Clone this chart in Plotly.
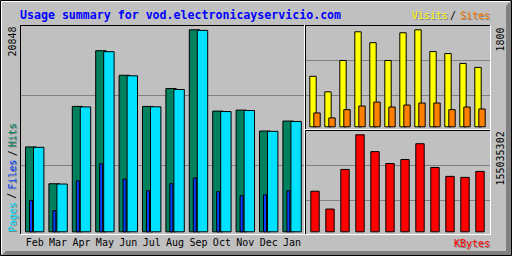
import plotly.graph_objects as go

# ---------------- data ----------------
months = ["Feb", "Mar", "Apr", "May", "Jun", "Jul", "Aug", "Sep", "Oct", "Nov", "Dec", "Jan"]
hits = [8761, 4960, 12940, 18691, 16155, 12940, 14789, 20848, 12457, 12560, 10403, 11430]
pages = [8720, 4930, 12890, 18589, 16100, 12900, 14686, 20790, 12410, 12520, 10370, 11390]
files = [3245, 2187, 5268, 7014, 5443, 4241, 4960, 5576, 4139, 3728, 3830, 4241]
visits = [937, 649, 1231, 1763, 1561, 1231, 1745, 1800, 1396, 1359, 1176, 1102]
sites = [257, 165, 318, 386, 459, 367, 404, 441, 441, 318, 367, 331]
kbytes = [64860000, 36380000, 99660000, 155035302, 128140000, 109150000,
          115480000, 140800000, 102830000, 88590000, 87010000, 96500000]

title_text = "Usage summary for vod.electronicayservicio.com"

# ---------------- styling ----------------
W, H = 512, 256
BG = "#C0C0C0"
DK = "#808080"
C_HITS = "#00805C"
C_FILES = "#0040FF"
C_PAGES = "#00E0FF"
C_VISITS = "#FFFF00"
C_SITES = "#FF8000"
C_KB = "#FF0000"
MONO = "DejaVu Sans Mono"


def fx(x):
    return x / W


def fy(y):
    return 1 - y / H


fig = go.Figure()
outline = dict(color="black", width=1)
idx = list(range(len(months)))


def add_bar(y, color, off_px, w_px, step, xa, ya):
    fig.add_trace(go.Bar(
        x=idx, y=y, marker=dict(color=color, line=outline),
        offset=off_px / step, width=w_px / step,
        xaxis=xa, yaxis=ya, hoverinfo="skip", showlegend=False))


# left panel (hits / pages / files)
STEP_L = 23.4
add_bar(hits, C_HITS, -9.2, 10.4, STEP_L, "x", "y")
add_bar(pages, C_PAGES, -1.2, 10.4, STEP_L, "x", "y")
add_bar(files, C_FILES, -5.2, 3.0, STEP_L, "x", "y")

# top right (visits / sites)
STEP_R = 15.0
add_bar(visits, C_VISITS, -5.2, 6.4, STEP_R, "x2", "y2")
add_bar(sites, C_SITES, -1.2, 6.4, STEP_R, "x2", "y2")

# bottom right (kbytes)
add_bar(kbytes, C_KB, -4.2, 8.4, STEP_R, "x3", "y3")


def yrange(dom_top, dom_bot, base, top_px, vmax):
    ppu = (base - top_px) / vmax
    return [-(dom_bot - base) / ppu, (base - dom_top) / ppu]


def xrange(dom_l, dom_r, zero_px, step):
    return [(dom_l - zero_px) / step, (dom_r - zero_px) / step]


hidden = dict(showgrid=False, zeroline=False, showline=False, showticklabels=False,
              ticks="", fixedrange=True)

fig.update_layout(
    xaxis=dict(domain=[fx(20.5), fx(304.5)], range=xrange(20.5, 304.5, 34.7, STEP_L),
               showgrid=False, zeroline=False, showline=False, ticks="",
               tickmode="array", tickvals=idx, ticktext=months,
               tickfont=dict(family=MONO, size=10, color="black"), fixedrange=True),
    yaxis=dict(domain=[fy(234.5), fy(25.5)],
               range=yrange(25.5, 234.5, 231.8, 29.8, max(hits)), **hidden),
    xaxis2=dict(domain=[fx(305.5), fx(490.5)], range=xrange(305.5, 490.5, 315.0, STEP_R),
                anchor="y2", **hidden),
    yaxis2=dict(domain=[fy(129.5), fy(25.5)], anchor="x2",
                range=yrange(25.5, 129.5, 126.8, 29.8, max(visits)), **hidden),
    xaxis3=dict(domain=[fx(305.5), fx(490.5)], range=xrange(305.5, 490.5, 315.0, STEP_R),
                anchor="y3", **hidden),
    yaxis3=dict(domain=[fy(234.5), fy(130.5)], anchor="x3",
                range=yrange(130.5, 234.5, 231.8, 134.8, max(kbytes)), **hidden),
    barmode="overlay",
    width=W, height=H, autosize=False,
    margin=dict(l=0, r=0, t=0, b=0, pad=0),
    paper_bgcolor=BG, plot_bgcolor="rgba(0,0,0,0)",
    showlegend=False,
)

shapes = []


def pline(x0, y0, x1, y1, color, layer="above"):
    shapes.append(dict(type="line", xref="paper", yref="paper",
                       x0=fx(x0), y0=fy(y0), x1=fx(x1), y1=fy(y1),
                       line=dict(color=color, width=1), layer=layer))


def ppath(points, color):
    d = "M " + " L ".join(f"{fx(a):.6f},{fy(b):.6f}" for a, b in points) + " Z"
    shapes.append(dict(type="path", xref="paper", yref="paper", path=d,
                       fillcolor=color, line=dict(width=0), layer="above"))


# outer 3D frame
ppath([(511, 1), (511, 256), (1, 256), (6, 251), (506, 251), (506, 6)], DK)
pline(1, 1.5, 510, 1.5, "white")
pline(1.5, 1, 1.5, 254, "white")
shapes.append(dict(type="rect", xref="paper", yref="paper",
                   x0=fx(0.5), y0=fy(0.5), x1=fx(511.5), y1=fy(255.5),
                   line=dict(color="black", width=1), layer="above"))

# panels: (left col, top row, right col, bottom row, grid rows)
panels = [(20, 25, 304, 234, [95, 165]),
          (305, 25, 490, 129, [60, 95]),
          (305, 130, 490, 234, [165, 200])]
for x0, y0, x1, y1, grows in panels:
    for g in grows:
        pline(x0 + 1, g + 0.5, x1, g + 0.5, DK, layer="below")
    pline(x0, y0 + 0.5, x1 + 1, y0 + 0.5, "black")
    pline(x0 + 0.5, y0, x0 + 0.5, y1 + 1, "black")
    pline(x0, y1 + 0.5, x1 + 1, y1 + 0.5, "white")
    pline(x1 + 0.5, y0, x1 + 0.5, y1 + 1, "white")

fig.update_layout(shapes=shapes)

ann = []


def text(t, x, y, color, size=10, xanchor="center", yanchor="middle", angle=0,
         bold=False, shadow=False):
    fam = MONO
    s = f"<b>{t}</b>" if bold else t
    if shadow:
        ann.append(dict(text=s, x=fx(x + 1), y=fy(y + 1), xref="paper", yref="paper",
                        xanchor=xanchor, yanchor=yanchor, textangle=angle,
                        showarrow=False, borderpad=0, borderwidth=0,
                        font=dict(family=fam, size=size, color=DK)))
    ann.append(dict(text=s, x=fx(x), y=fy(y), xref="paper", yref="paper",
                    xanchor=xanchor, yanchor=yanchor, textangle=angle,
                    showarrow=False, borderpad=0, borderwidth=0,
                    font=dict(family=fam, size=size, color=color)))


text(title_text, 20, 15, "#0000FF", size=11.6, xanchor="left", bold=True)
text("Visits", 411.5, 15.5, C_VISITS, xanchor="left", shadow=True)
text("/", 452.5, 15.5, "black", shadow=False)
text("Sites", 489.5, 15.5, C_SITES, xanchor="right", shadow=True)
text("KBytes", 489.5, 243, C_KB, xanchor="right", shadow=True)

text(str(max(hits)), 12, 26.5, "black", yanchor="top", angle=-90)
text(str(max(visits)), 500, 27.5, "black", yanchor="top", angle=-90)
text(str(max(kbytes)), 500, 131.5, "black", yanchor="top", angle=-90)

text("Pages", 12, 217, C_PAGES, angle=-90, shadow=True)
text("/", 12, 195.75, "black", angle=-90)
text("Files", 12, 174.5, C_FILES, angle=-90, shadow=True)
text("/", 12, 153.25, "black", angle=-90)
text("Hits", 12, 135, C_HITS, angle=-90, shadow=True)

fig.update_layout(annotations=ann)

fig.write_html("out.html")
